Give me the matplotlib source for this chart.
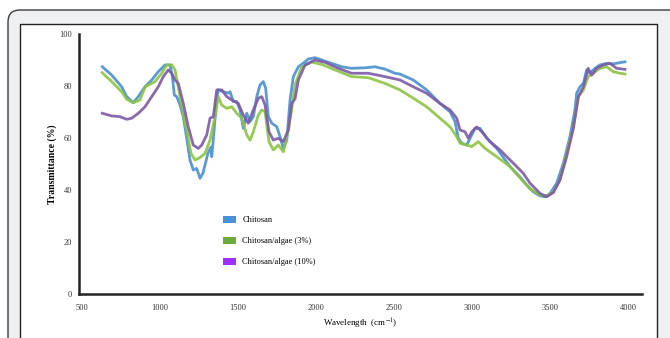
import matplotlib
matplotlib.use("Agg")
from matplotlib import pyplot as plt
from matplotlib.patches import FancyBboxPatch, Rectangle, Patch

# Chitosan
wn_chitosan = [633, 693, 757, 789, 831, 863, 906, 949, 991, 1034, 1066, 1081,
               1094, 1109, 1130, 1151, 1173, 1194, 1215, 1237, 1258, 1277, 1309,
               1328, 1333, 1341, 1365, 1375, 1407, 1439, 1450, 1471, 1493, 1514,
               1535, 1557, 1578, 1599, 1621, 1642, 1663, 1678, 1695, 1717, 1749,
               1770, 1791, 1813, 1834, 1855, 1887, 1930, 1951, 1994, 2036, 2100,
               2164, 2228, 2313, 2377, 2441, 2505, 2537, 2622, 2708, 2793, 2857,
               2889, 2910, 2932, 2964, 2985, 3017, 3049, 3092, 3156, 3241, 3305,
               3348, 3390, 3433, 3465, 3497, 3539, 3582, 3624, 3656, 3667, 3688,
               3710, 3731, 3752, 3784, 3816, 3859, 3901, 3944, 3976]
tr_chitosan = [87.4, 84.2, 79.7, 75.9, 73.6, 75.9, 79.7, 82.3, 85.5, 88.1, 88.1,
               83.6, 76.5, 75.9, 72.7, 68.2, 59.9, 51.5, 47.7, 48.3, 44.5, 46.5,
               54.2, 56.5, 52.8, 58.1, 75.1, 78.5, 77.8, 77.3, 77.8, 74.0, 74.0,
               70.8, 63.7, 69.5, 66.3, 68.2, 75.9, 80.4, 81.7, 79.1, 68.2, 65.7,
               64.3, 60.5, 56.0, 59.2, 74.6, 83.6, 87.4, 89.3, 90.4, 90.9, 90.0,
               88.7, 87.4, 86.8, 87.0, 87.4, 86.5, 84.9, 84.6, 82.3, 78.5, 73.3,
               70.1, 66.3, 59.9, 58.0, 57.3, 59.9, 63.7, 63.7, 59.9, 56.0, 49.0,
               45.0, 41.9, 39.3, 37.7, 37.4, 38.7, 42.6, 50.3, 60.5, 70.8, 77.2,
               79.7, 81.0, 86.2, 84.9, 86.8, 88.1, 88.7, 88.5, 89.0, 89.3]

# Chitosan/algae (3%)
wn_algae3 = [633, 693, 757, 789, 831, 874, 907, 970, 1013, 1045, 1077, 1098, 1119,
             1141, 1173, 1200, 1226, 1258, 1290, 1322, 1354, 1375, 1397, 1429,
             1461, 1493, 1525, 1557, 1578, 1599, 1631, 1653, 1674, 1699, 1727,
             1759, 1791, 1823, 1844, 1866, 1908, 1973, 2036, 2121, 2228, 2334,
             2441, 2537, 2622, 2708, 2793, 2857, 2900, 2921, 2964, 2996, 3038,
             3081, 3156, 3241, 3326, 3369, 3433, 3475, 3518, 3560, 3603, 3646,
             3678, 3710, 3741, 3773, 3816, 3859, 3901, 3944, 3976]
tr_algae3 = [85.1, 81.7, 77.8, 74.9, 73.6, 74.6, 79.7, 81.7, 84.9, 88.1, 88.1,
             86.2, 79.7, 72.0, 63.1, 54.1, 51.5, 52.5, 54.1, 59.2, 68.2, 75.9,
             72.7, 71.4, 72.0, 69.5, 67.6, 61.2, 59.2, 62.4, 68.8, 70.8, 70.1,
             58.6, 55.4, 57.3, 54.7, 63.1, 70.8, 80.4, 87.3, 89.2, 88.3, 86.2,
             83.6, 83.2, 81.0, 78.5, 75.3, 72.0, 67.6, 64.3, 60.5, 58.0, 57.3,
             56.7, 58.6, 56.0, 52.8, 49.0, 43.2, 40.4, 38.1, 37.7, 39.3, 43.8,
             54.1, 64.3, 75.9, 78.5, 83.6, 84.9, 86.8, 87.4, 85.5, 84.9, 84.6]

# Chitosan/algae (10%)
wn_algae10 = [633, 693, 746, 789, 821, 863, 906, 949, 991, 1023, 1055, 1077, 1098,
              1119, 1151, 1183, 1215, 1247, 1269, 1301, 1322, 1343, 1365, 1397,
              1429, 1461, 1503, 1535, 1567, 1599, 1631, 1653, 1674, 1699, 1727,
              1759, 1791, 1823, 1844, 1866, 1887, 1930, 1994, 2058, 2143, 2228,
              2334, 2441, 2537, 2622, 2708, 2793, 2857, 2900, 2921, 2953, 2974,
              2996, 3028, 3060, 3113, 3177, 3262, 3326, 3369, 3433, 3475, 3518,
              3560, 3603, 3646, 3678, 3710, 3741, 3763, 3795, 3837, 3880, 3923,
              3976]
tr_algae10 = [69.5, 68.5, 68.2, 67.2, 67.6, 69.5, 72.0, 75.9, 79.7, 83.6, 86.2,
              84.9, 82.3, 81.0, 73.3, 64.3, 57.3, 56.0, 57.3, 61.2, 67.6, 68.2,
              78.5, 78.5, 75.9, 74.6, 73.3, 68.8, 65.7, 70.8, 75.3, 75.9, 72.7,
              62.4, 59.2, 59.9, 58.6, 63.1, 73.3, 75.1, 82.3, 88.1, 90.0, 89.1,
              86.8, 84.9, 84.9, 83.6, 82.3, 79.7, 77.2, 73.3, 70.8, 67.6, 63.1,
              62.4, 59.9, 62.4, 64.3, 62.4, 58.6, 55.4, 50.3, 46.4, 42.6, 38.7,
              37.4, 39.0, 43.8, 52.8, 63.7, 75.9, 79.7, 86.8, 84.2, 86.8, 88.1,
              88.7, 86.8, 86.4]

labels = ["Chitosan", "Chitosan/algae (3%)", "Chitosan/algae (10%)"]
line_colors = ["#4a8fd0", "#8cc342", "#7d5aa6"]
legend_colors = ["#4a90d9", "#6aab3c", "#9b30ff"]
x_ticks = [500, 1000, 1500, 2000, 2500, 3000, 3500, 4000]
y_ticks = [0, 20, 40, 60, 80, 100]


def draw_frame(fig):
    # grey card with rounded corners and a white inner panel (pixel coords, origin bottom left)
    card = FancyBboxPatch((8, -100), 700, 428, boxstyle="round,pad=0,rounding_size=12",
                          transform=None, facecolor="#eff0f2", edgecolor="#3c3c3c",
                          linewidth=1.0, zorder=-2)
    panel = Rectangle((20, -5), 637, 319, transform=None, facecolor="white",
                      edgecolor="#222222", linewidth=1.0, zorder=-1)
    fig.patches.extend([card, panel])


def main():
    plt.rcParams["font.family"] = ["Liberation Serif", "DejaVu Serif"]
    plt.rcParams["mathtext.fontset"] = "stix"
    fig = plt.figure(figsize=(6.7, 3.38), dpi=100)
    draw_frame(fig)

    ax = fig.add_axes([79 / 670, 1 - 294 / 338, 563 / 670, 260 / 338])
    ax.set_facecolor("none")

    ax.plot(wn_chitosan, tr_chitosan, color=line_colors[0], lw=2.0, alpha=0.9)
    ax.plot(wn_algae3, tr_algae3, color=line_colors[1], lw=2.0, alpha=0.9)
    ax.plot(wn_algae10, tr_algae10, color=line_colors[2], lw=2.0, alpha=0.9)

    ax.set_xlim(484, 4085)
    ax.set_ylim(0, 100)
    ax.set_xticks(x_ticks)
    ax.set_yticks(y_ticks)
    ax.tick_params(length=0, labelsize=6, pad=7, colors="#333333")
    ax.tick_params(axis="y", pad=5)
    for side in ["top", "right"]:
        ax.spines[side].set_visible(False)
    for side in ["left", "bottom"]:
        ax.spines[side].set_linewidth(1.8)
        ax.spines[side].set_color("#222222")

    ax.set_xlabel("Wavelength  (cm$^{-1}$)", fontsize=6.5, labelpad=4)
    ax.set_ylabel("Transmittance (%)", fontsize=7, fontweight="bold", labelpad=2)

    handles = [Patch(facecolor=c, edgecolor="none") for c in legend_colors]
    ax.legend(handles, labels, loc="upper left", bbox_to_anchor=(0.243, 0.33),
              frameon=False, fontsize=6, handlelength=1.5, handleheight=1.0,
              handletextpad=0.8, labelspacing=1.5)

    fig.savefig("out.png", dpi=100)


if __name__ == "__main__":
    main()
